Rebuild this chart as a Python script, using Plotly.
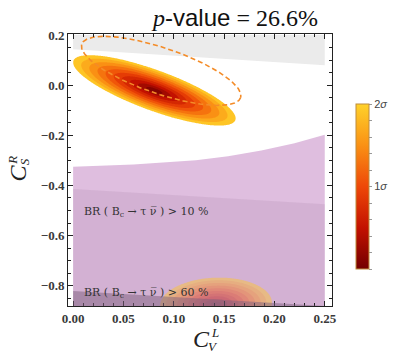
import math
import numpy as np
import plotly.graph_objects as go

# ---------------- data ----------------
X_RANGE = [-0.0051, 0.2572]
Y_RANGE = [-0.881, 0.204]
X_TICKS = [0.00, 0.05, 0.10, 0.15, 0.20, 0.25]
X_TICK_TEXT = ["0.00", "0.05", "0.10", "0.15", "0.20", "0.25"]
Y_TICKS = [-0.8, -0.6, -0.4, -0.2, 0.0, 0.2]
Y_TICK_TEXT = ["\u22120.8", "\u22120.6", "\u22120.4", "\u22120.2", "0.0", "0.2"]

# grey excluded band (top)
gray_x = [0.0, 0.25, 0.25, 0.0]
gray_y = [0.200, 0.200, 0.079, 0.143]

# purple constraint regions (upper boundaries)
regA_x = [0.0, 0.06, 0.122, 0.154, 0.187, 0.22, 0.25]
regA_y = [-0.326, -0.317, -0.300, -0.284, -0.261, -0.232, -0.198]
regB_x = [0.0, 0.25]
regB_y = [-0.414, -0.475]
regC_x = [0.0, 0.25]
regC_y = [-0.821, -0.883]
Y_FLOOR = -0.881

# best-fit region (2 sigma ellipse: centre, half major axis, half minor axis)
fit_center = [0.0807, -0.021]
fit_major = [0.0805, -0.118]
fit_minor = [-0.0065, -0.076]

# secondary minimum at the bottom
blob_center = [0.142, -0.874]
blob_major = [0.0555, 0.006]
blob_minor = [0.0, -0.106]

# dashed orange ellipse
dash_center = [0.0875, 0.0568]
dash_major = [0.0789, -0.1064]
dash_minor = [-0.00685, -0.0876]

# colour map versus sigma
SIGMA_STOPS = [0.0, 0.5, 1.0, 1.5, 2.0]
SIGMA_COLORS = [(115, 0, 0), (195, 18, 0), (238, 72, 8), (250, 145, 20), (255, 210, 42)]

labels_text = ["BR ( B<sub>c</sub> \u2192 \u03c4 \u03bd\u0305 ) > 10 %",
               "BR ( B<sub>c</sub> \u2192 \u03c4 \u03bd\u0305 ) > 60 %"]
labels_x = [0.009, 0.009]
labels_y = [-0.508, -0.830]


# ---------------- helpers ----------------
def sigma_field(X, Y, c, u, v):
    """distance in sigma units, 2 at the given ellipse"""
    dx = X - c[0]
    dy = Y - c[1]
    det = u[0] * v[1] - v[0] * u[1]
    s = (dx * v[1] - v[0] * dy) / det
    t = (u[0] * dy - u[1] * dx) / det
    return 2.0 * np.sqrt(s ** 2 + t ** 2)


def sig_color(sig, alpha=1.0):
    rgb = [np.interp(sig, SIGMA_STOPS, [c[i] for c in SIGMA_COLORS]) for i in range(3)]
    return "rgba(%d,%d,%d,%g)" % (round(rgb[0]), round(rgb[1]), round(rgb[2]), alpha)


# contour colourscale on w = 2 - sigma; levels 0..1.8 step 0.2
contour_cs = [[0.0, "rgba(255,255,255,0)"], [0.09, "rgba(255,255,255,0)"]]
for k in range(1, 11):
    contour_cs.append([round(0.1 * k, 4), sig_color(1.9 - 0.2 * (k - 1))])

bar_cs = [[s / 2.0, sig_color(s)] for s in SIGMA_STOPS]


def poly_path(xs, ys):
    return "M " + " L ".join("%g,%g" % (a, b) for a, b in zip(xs, ys)) + " Z"


# ---------------- figure ----------------
W, H = 401, 353
ML, MR, MT, MB = 68, 61, 34, 47
PW, PH = W - ML - MR, H - MT - MB


def px(xp):
    return (xp - ML) / PW


def py(yp):
    return 1 - (yp - MT) / PH


fig = go.Figure()

xs = np.linspace(0.0, 0.25, 260)
ys = np.linspace(-0.881, 0.2, 420)
XX, YY = np.meshgrid(xs, ys)

w_fit = np.clip(2.0 - sigma_field(XX, YY, fit_center, fit_major, fit_minor), -0.6, 2.0)
fig.add_trace(go.Contour(x=xs, y=ys, z=w_fit, autocontour=False,
                         contours=dict(start=0, end=1.8, size=0.2, coloring="fill", showlines=False),
                         line=dict(width=0), colorscale=contour_cs, showscale=False,
                         hoverinfo="skip"))

w_blob = np.clip(2.0 - sigma_field(XX, YY, blob_center, blob_major, blob_minor), -0.6, 2.0)
fig.add_trace(go.Contour(x=xs, y=ys, z=w_blob, autocontour=False,
                         contours=dict(start=0, end=1.8, size=0.2, coloring="fill", showlines=False),
                         line=dict(width=0), colorscale=contour_cs, showscale=False,
                         opacity=0.45, hoverinfo="skip"))

tt = np.linspace(0, 2 * np.pi, 240)
ex = dash_center[0] + np.cos(tt) * dash_major[0] + np.sin(tt) * dash_minor[0]
ey = dash_center[1] + np.cos(tt) * dash_major[1] + np.sin(tt) * dash_minor[1]
fig.add_trace(go.Scatter(x=ex, y=ey, mode="lines",
                         line=dict(color="rgb(244,140,40)", width=1.6, dash="5px,3px"),
                         hoverinfo="skip", showlegend=False))

# dummy trace carrying the sigma colour bar
fig.add_trace(go.Scatter(x=[fit_center[0]], y=[fit_center[1]], mode="markers",
                         marker=dict(size=0.1, color=[0], cmin=0, cmax=2, colorscale=bar_cs,
                                     showscale=True,
                                     colorbar=dict(x=px(365), xanchor="left", y=py(186.5), yanchor="middle",
                                                   len=165 / PH, lenmode="fraction", thickness=13,
                                                   ypad=0, xpad=0, outlinewidth=1,
                                                   outlinecolor="rgb(190,140,60)",
                                                   tickvals=[round(0.2 * i, 1) for i in range(11)],
                                                   ticktext=[" " if i not in (5, 10) else "%d<i>\u03c3</i>" % (i // 5)
                                                             for i in range(11)],
                                                   ticks="outside", ticklen=3, tickcolor="#999",
                                                   tickfont=dict(family="Liberation Sans", size=11, color="#444"))),
                         hoverinfo="skip", showlegend=False))

shapes = [
    dict(type="path", path=poly_path(gray_x, gray_y), xref="x", yref="y",
         fillcolor="rgb(235,235,235)", line=dict(width=0), layer="below"),
    dict(type="path", path=poly_path(regA_x + [regA_x[-1], regA_x[0]], regA_y + [Y_FLOOR, Y_FLOOR]),
         xref="x", yref="y", fillcolor="rgba(192,126,192,0.5)", line=dict(width=0), layer="below"),
    dict(type="path", path=poly_path(regB_x + [regB_x[-1], regB_x[0]], regB_y + [Y_FLOOR, Y_FLOOR]),
         xref="x", yref="y", fillcolor="rgba(190,155,190,0.35)", line=dict(width=0), layer="below"),
    dict(type="path", path=poly_path(regC_x + [regC_x[-1], regC_x[0]], [regC_y[0], max(regC_y[1], Y_FLOOR), Y_FLOOR, Y_FLOOR]),
         xref="x", yref="y", fillcolor="rgba(125,95,125,0.5)", line=dict(width=0), layer="above"),
]

ann = []
for t, x, y in zip(labels_text, labels_x, labels_y):
    ann.append(dict(text=t, x=x, y=y, xref="x", yref="y", xanchor="left", yanchor="middle",
                    showarrow=False, font=dict(family="DejaVu Serif", size=11, color="#333")))

ann.append(dict(text="<i>p</i><span style='font-family:Liberation Sans'>-value</span> = 26.6%",
                x=px(240), y=py(18), xref="paper", yref="paper", xanchor="center", yanchor="middle",
                showarrow=False, font=dict(family="Liberation Serif", size=24, color="#111")))

# x-axis label C_V^L
ann.append(dict(text="<i>C</i>", x=px(206), y=py(339), xref="paper", yref="paper",
                xanchor="center", yanchor="middle", showarrow=False,
                font=dict(family="Liberation Serif", size=24, color="#222")))
ann.append(dict(text="<i>L</i>", x=px(219), y=py(332), xref="paper", yref="paper",
                xanchor="center", yanchor="middle", showarrow=False,
                font=dict(family="Liberation Serif", size=13, color="#222")))
ann.append(dict(text="<i>V</i>", x=px(217), y=py(346), xref="paper", yref="paper",
                xanchor="center", yanchor="middle", showarrow=False,
                font=dict(family="Liberation Serif", size=13, color="#222")))

# y-axis label C_S^R (rotated)
ann.append(dict(text="<i>C</i>", x=px(16), y=py(173), xref="paper", yref="paper",
                xanchor="center", yanchor="middle", textangle=-90, showarrow=False,
                font=dict(family="Liberation Serif", size=24, color="#222")))
ann.append(dict(text="<i>R</i>", x=px(10), y=py(160), xref="paper", yref="paper",
                xanchor="center", yanchor="middle", textangle=-90, showarrow=False,
                font=dict(family="Liberation Serif", size=13, color="#222")))
ann.append(dict(text="<i>S</i>", x=px(23), y=py(162), xref="paper", yref="paper",
                xanchor="center", yanchor="middle", textangle=-90, showarrow=False,
                font=dict(family="Liberation Serif", size=13, color="#222")))

axis_common = dict(showgrid=False, zeroline=False, showline=True, linecolor="#222", linewidth=1,
                   mirror="ticks", ticks="inside", ticklen=5, tickwidth=1, tickcolor="#222",
                   tickfont=dict(family="Liberation Serif", size=13, color="#3a3a3a", weight="bold"))

fig.update_layout(
    width=W, height=H, margin=dict(l=ML, r=MR, t=MT, b=MB, pad=0),
    paper_bgcolor="white", plot_bgcolor="white", showlegend=False,
    xaxis=dict(range=X_RANGE, tickvals=X_TICKS, ticktext=X_TICK_TEXT,
               minor=dict(dtick=0.01, tick0=0, ticks="inside", ticklen=3, tickcolor="#222"),
               **axis_common),
    yaxis=dict(range=Y_RANGE, tickvals=Y_TICKS, ticktext=Y_TICK_TEXT,
               minor=dict(dtick=0.05, tick0=0, ticks="inside", ticklen=3, tickcolor="#222"),
               **axis_common),
    shapes=shapes, annotations=ann,
)

fig.write_html("out.html")
